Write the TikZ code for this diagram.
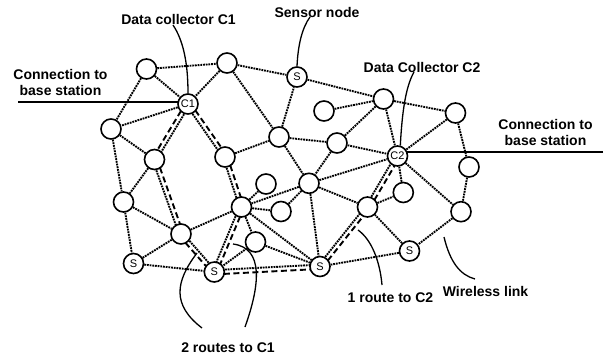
\documentclass[tikz,border=0pt]{standalone}
\usepackage{fontspec}
\setmainfont{Liberation Sans}
\usetikzlibrary{calc,backgrounds}

\tikzset{
  sensor/.style={circle, draw, fill=white, line width=1.6pt, minimum size=20pt,
    inner sep=0pt, font=\fontsize{11}{11}\selectfont},
  link/.style={line width=1.9pt, dash pattern=on 1.8pt off 0.9pt},
  routedash/.style={line width=1.9pt, dash pattern=on 6pt off 3.5pt},
  callout/.style={line width=1.3pt},
  uplink/.style={line width=2.4pt},
  lbl/.style={font=\fontsize{14}{16.6}\selectfont\bfseries, inner sep=0pt,
    anchor=base, align=center}
}

% a link that carries a route: dotted link with a dashed line beside it
% #3 = side of the dashed line at the first node, #4 = the opposite angle
\newcommand\routelink[4]{%
  \draw[link] ($(#1)!1.9pt!#4:(#2)$) -- ($(#2)!1.9pt!#3:(#1)$);
  \draw[routedash] ($(#1)!2.4pt!#3:(#2)$) -- ($(#2)!2.4pt!#4:(#1)$);
}

\begin{document}
\begin{tikzpicture}[x=1pt,y=-1pt]
\useasboundingbox (0,0) rectangle (609,356);

% sensor nodes
\node[sensor] (A)  at (146.5,69)  {};
\node[sensor] (B)  at (227,63)    {};
\node[sensor] (S0) at (297,77)    {S};
\node[sensor] (C1) at (188,104)   {C1};
\node[sensor] (D)  at (111,129)   {};
\node[sensor] (E)  at (154.5,159.5) {};
\node[sensor] (F)  at (225,157)   {};
\node[sensor] (G)  at (279,137)   {};
\node[sensor] (H)  at (383.5,99)  {};
\node[sensor] (I)  at (324,111)   {};
\node[sensor] (J)  at (455.5,113) {};
\node[sensor] (K)  at (337,143)   {};
\node[sensor] (C2) at (397.5,156) {C2};
\node[sensor] (L)  at (469,167)   {};
\node[sensor] (M)  at (123.5,202) {};
\node[sensor] (N)  at (181,234)   {};
\node[sensor] (O)  at (241.5,207) {};
\node[sensor] (P)  at (266,184)   {};
\node[sensor] (Q)  at (281,211.5) {};
\node[sensor] (R)  at (255.5,242) {};
\node[sensor] (T)  at (309,183.3) {};
\node[sensor] (U)  at (367.5,207) {};
\node[sensor] (V)  at (403.3,192.5) {};
\node[sensor] (W)  at (461,211.7) {};
\node[sensor] (S1) at (133.5,263.5) {S};
\node[sensor] (S2) at (214.3,272) {S};
\node[sensor] (S3) at (320,266.5) {S};
\node[sensor] (S4) at (409.5,251) {S};

% base station ends
\coordinate (bs1) at (18,102);
\coordinate (bs2) at (603,152);

\begin{scope}[on background layer]
  \foreach \a/\b in {A/B, A/C1, A/D, B/C1, B/S0, B/G, C1/D, D/E, D/M,
      F/G, G/S0, G/K, G/T, S0/H, I/H, H/K, H/C2, H/J, K/C2, K/T, T/C2,
      J/C2, J/L, L/W, C2/W, C2/V, U/V, W/S4, S4/U, S4/S3, T/U, T/S3,
      T/O, T/Q, O/P, O/Q, O/N, O/R, O/S3, R/S2, R/S3, E/M, M/N, M/S1,
      S1/N, S1/S2}
    \draw[link] (\a) -- (\b);
  % two routes to C1
  \routelink{C1}{E}{-90}{90}
  \routelink{E}{N}{90}{-90}
  \routelink{N}{S2}{-90}{90}
  \routelink{C1}{F}{90}{-90}
  \routelink{F}{O}{90}{-90}
  \routelink{O}{S2}{90}{-90}
  \routelink{S2}{S3}{-90}{90}
  % one route to C2
  \routelink{S3}{U}{-90}{90}
  \routelink{U}{C2}{-90}{90}
  % connections to the base station
  \draw[uplink] (bs1) -- (bs1 -| C1);
  \draw[uplink] (bs2) -- (bs2 -| C2);
\end{scope}

% labels (two-line labels sit on the baseline of their last line)
\node[lbl] (tC1) at (178.5,24)   {Data collector C1};
\node[lbl] (tS)  at (317,17.3)   {Sensor node};
\node[lbl] (tC2) at (422,72.5)   {Data Collector C2};
\node[lbl] (tB1) at (60.5,95.7)  {Connection to\\base station};
\node[lbl] (tB2) at (545.5,145.7) {Connection to\\base station};
\node[lbl] (tW)  at (485.5,296.7) {Wireless link};
\node[lbl] (tR2) at (390.5,302.3) {1 route to C2};
\node[lbl] (tR1) at (228,352.3)  {2 routes to C1};

% callout lines
\coordinate (cC1) at (173,25);
\coordinate (cS)  at (310,17);
\coordinate (cC2) at (414,72);
\coordinate (cW1) at (444,237);
\coordinate (cW2) at (475,279);
\coordinate (cU1) at (358,230);
\coordinate (cU2) at (382,285);
\coordinate (cA1) at (197,253);
\coordinate (cA2) at (202,328);
\coordinate (cB1) at (233,244);
\coordinate (cB2) at (245,327);

\draw[callout] (cC1) .. controls (183,40) and (188,62) .. (C1.north);
\draw[callout] (cS) .. controls (302,28) and (298,45) .. (S0.north);
\draw[callout] (cC2) .. controls (405,88) and (402,115) .. (C2.75);
\draw[callout] (cW1) .. controls (450,262) and (460,275) .. (cW2);
\draw[callout] (cU1) .. controls (372,240) and (380,262) .. (cU2);
\draw[callout] (cA1) .. controls (175,282) and (172,305) .. (cA2);
\draw[callout] (cB1) .. controls (264,248) and (260,285) .. (cB2);
\end{tikzpicture}
\end{document}
